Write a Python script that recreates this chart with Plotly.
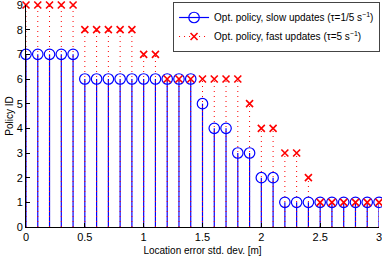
import plotly.graph_objects as go

x_vals = [round(0.1 * i, 1) for i in range(31)]
slow_policy = [7, 7, 7, 7, 7, 6, 6, 6, 6, 6, 6, 6, 6, 6, 6, 5, 4, 4, 3, 3, 2, 2, 1, 1, 1, 1, 1, 1, 1, 1, 1]
fast_policy = [9, 9, 9, 9, 9, 8, 8, 8, 8, 8, 7, 7, 6, 6, 6, 6, 6, 6, 6, 5, 4, 4, 3, 3, 2, 1, 1, 1, 1, 1, 1]
x_ticks = [0, 0.5, 1, 1.5, 2, 2.5, 3]
y_ticks = list(range(10))
slow_label = "Opt. policy, slow updates (τ=1/5 s<sup>−1</sup>)"
fast_label = "Opt. policy, fast updates (τ=5 s<sup>−1</sup>)"

BLUE = "rgb(0,0,255)"
RED = "rgb(255,0,0)"


def stem_xy(xs, ys):
    sx, sy = [], []
    for xv, yv in zip(xs, ys):
        sx += [xv, xv, None]
        sy += [0, yv, None]
    return sx, sy


fig = go.Figure()
sx, sy = stem_xy(x_vals, slow_policy)
fig.add_trace(go.Scatter(x=sx, y=sy, mode="lines", line=dict(color=BLUE, width=1.2),
                         showlegend=False, hoverinfo="skip", cliponaxis=False))
fx, fy = stem_xy(x_vals, fast_policy)
fig.add_trace(go.Scatter(x=fx, y=fy, mode="lines", line=dict(color=RED, width=1, dash="1px,4px"),
                         showlegend=False, hoverinfo="skip", cliponaxis=False))
fig.add_trace(go.Scatter(x=x_vals, y=slow_policy, mode="markers",
                         marker=dict(symbol="circle-open", size=10.5, color=BLUE, line=dict(width=1.2, color=BLUE)),
                         showlegend=False, cliponaxis=False))
fig.add_trace(go.Scatter(x=x_vals, y=fast_policy, mode="markers",
                         marker=dict(symbol="x-thin-open", size=7, color=RED, line=dict(width=1.6, color=RED)),
                         showlegend=False, cliponaxis=False))
# legend entries
fig.add_trace(go.Scatter(x=[None], y=[None], mode="lines+markers", name=slow_label,
                         line=dict(color=BLUE, width=1.2),
                         marker=dict(symbol="circle-open", size=10.5, color=BLUE, line=dict(width=1.2, color=BLUE))))
fig.add_trace(go.Scatter(x=[None], y=[None], mode="lines+markers", name=fast_label,
                         line=dict(color=RED, width=1, dash="1px,4px"),
                         marker=dict(symbol="x-thin-open", size=7, color=RED, line=dict(width=1.6, color=RED))))

fig.update_layout(
    width=382, height=257,
    margin=dict(l=26, r=3, t=5, b=30, autoexpand=False),
    plot_bgcolor="white", paper_bgcolor="white",
    font=dict(family="Liberation Sans, Arial, sans-serif", size=11, color="black"),
    legend=dict(x=1.003, y=1.0135, xanchor="right", yanchor="top",
                bgcolor="white", bordercolor="#444", borderwidth=1,
                font=dict(size=10), itemwidth=30, tracegroupgap=0),
    showlegend=True,
)
fig.update_xaxes(range=[0, 3], tickvals=x_ticks, ticktext=[f"{t:g}" for t in x_ticks],
                 ticks="inside", ticklen=4, tickcolor="black", automargin=False, ticklabeloverflow="allow",
                 showline=True, linecolor="black", linewidth=1, showgrid=False, zeroline=False,
                 title=dict(text="Location error std. dev. [m]", font=dict(size=10), standoff=4))
fig.update_yaxes(range=[0, 9], tickvals=y_ticks, ticks="inside", ticklen=4, tickcolor="black", automargin=False,
                 ticklabeloverflow="allow",
                 showline=True, linecolor="black", linewidth=1, showgrid=False, zeroline=False,
                 title=dict(text="Policy ID", font=dict(size=10), standoff=1))

fig.write_html("out.html", config={"displayModeBar": False},
               post_script="document.body.style.margin='0';document.body.style.padding='0';")
